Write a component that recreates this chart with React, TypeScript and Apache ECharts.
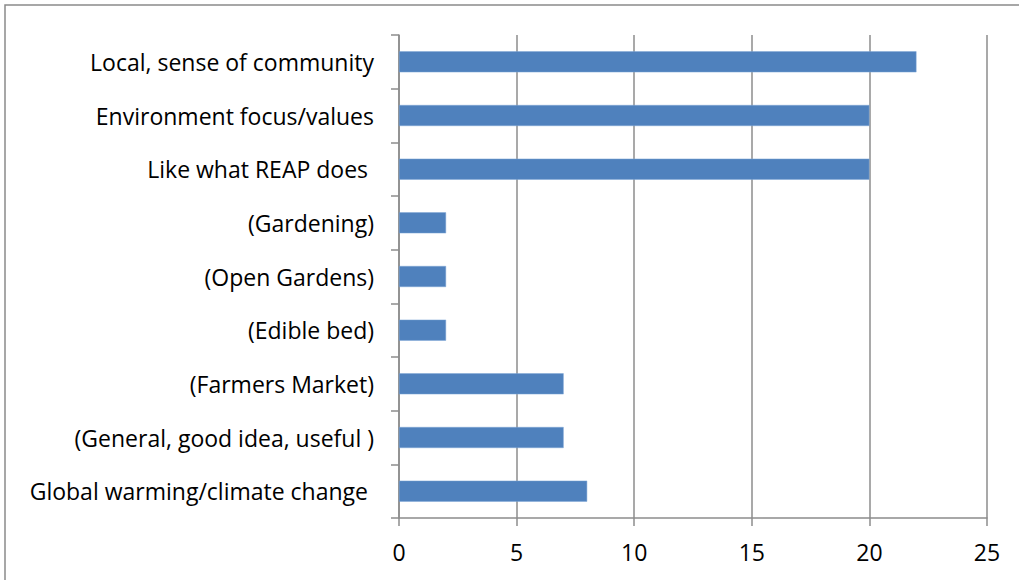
import React, { useEffect, useRef } from "react";
import * as echarts from "echarts";

const categories = [
  "Local, sense of community",
  "Environment focus/values",
  "Like what REAP does ",
  "(Gardening)",
  "(Open Gardens)",
  "(Edible bed)",
  "(Farmers Market)",
  "(General, good idea, useful )",
  "Global warming/climate change ",
];
const values = [22, 20, 20, 2, 2, 2, 7, 7, 8];
const xMin = 0;
const xMax = 25;
const xInterval = 5;

export default function App() {
  const ref = useRef<HTMLDivElement>(null);
  useEffect(() => {
    if (!ref.current) return;
    const chart = echarts.init(ref.current, undefined, { renderer: "svg" });
    const gray = "#8c8c8c";
    const font = "'Open Sans', sans-serif";
    chart.setOption({
      animation: false,
      backgroundColor: "#ffffff",
      graphic: [
        {
          type: "rect",
          shape: { x: 5, y: 5, width: 1030, height: 600 },
          style: { fill: "none", stroke: "#8a8a8a", lineWidth: 1.5 },
          silent: true,
        },
      ],
      grid: { left: 399, right: 32, top: 35, bottom: 62, containLabel: false },
      xAxis: {
        type: "value",
        min: xMin,
        max: xMax,
        interval: xInterval,
        axisLine: { show: true, lineStyle: { color: gray, width: 1.5 } },
        axisTick: { show: true, length: 8, lineStyle: { color: gray, width: 1.5 } },
        splitLine: { show: true, lineStyle: { color: gray, width: 1.5 } },
        axisLabel: { color: "#000", fontSize: 23, fontFamily: font, margin: 22 },
      },
      yAxis: {
        type: "category",
        data: categories,
        inverse: true,
        axisLine: { show: true, lineStyle: { color: gray, width: 1.5 } },
        axisTick: { show: true, length: 8, lineStyle: { color: gray, width: 1.5 } },
        axisLabel: { color: "#000", fontSize: 23, fontFamily: font, margin: 25 },
      },
      series: [
        {
          type: "bar",
          data: values,
          barWidth: 21,
          itemStyle: { color: "#4F81BD", borderColor: "#7fa6d6", borderWidth: 0.5 },
        },
      ],
    });
    return () => chart.dispose();
  }, []);
  return (
    <div
      ref={ref}
      style={{ position: "fixed", left: 0, top: 0, width: 1019, height: 580 }}
    />
  );
}
